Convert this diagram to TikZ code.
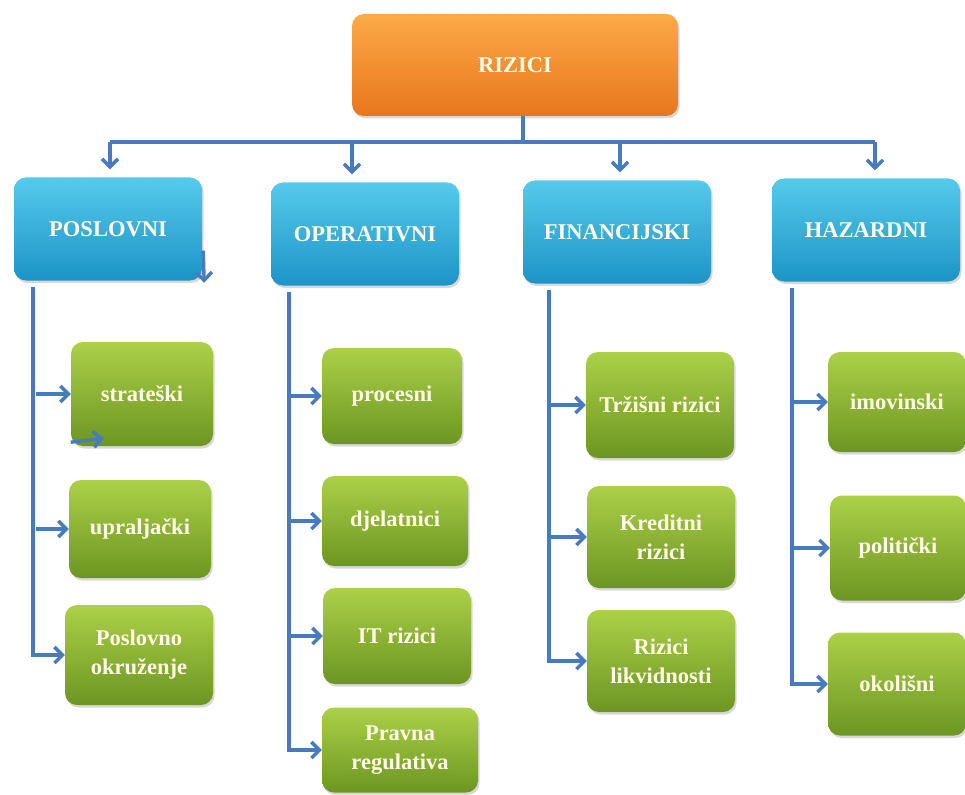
\documentclass[tikz,border=0pt]{standalone}
\usepackage{fontspec}
\setmainfont{Liberation Serif}
\usetikzlibrary{arrows.meta,shadows}

\definecolor{linkblue}{RGB}{72,122,192}
\definecolor{boxtext}{RGB}{255,252,232}
\definecolor{rootlight}{RGB}{252,170,72}
\definecolor{rootdark}{RGB}{232,118,28}
\definecolor{grouplight}{RGB}{86,202,236}
\definecolor{groupdark}{RGB}{28,148,198}
\definecolor{leaflight}{RGB}{172,208,72}
\definecolor{leafdark}{RGB}{108,150,34}

\begin{document}
\begin{tikzpicture}[%
    x=1pt, y=-1pt,
    box/.style={
        rounded corners=12,
        align=center,
        text=boxtext,
        font=\bfseries\fontsize{22.5}{29}\selectfont,
        drop shadow={opacity=0.3, shadow xshift=1.5pt, shadow yshift=-2.5pt},
        },
    rootnode/.style={
        box,
        top color=rootlight, bottom color=rootdark,
        minimum width=326, minimum height=102,
        },
    groupnode/.style={
        box,
        top color=grouplight, bottom color=groupdark,
        minimum width=188, minimum height=103,
        },
    leafnode/.style={
        box,
        top color=leaflight, bottom color=leafdark,
        minimum width=142, minimum height=100,
        },
    link/.style={linkblue, line width=3.4pt},
    arrow/.style={link, -{Straight Barb[length=8pt, width=16pt]}},
]

\fill[white] (0,0) rectangle (965,794);
\useasboundingbox (0,0) rectangle (965,794);

\node[rootnode] (rizici) at (515,65) {RIZICI};

\node[groupnode] (poslovni)    at (108,229) {POSLOVNI};
\node[groupnode] (operativni)  at (365,234) {OPERATIVNI};
\node[groupnode] (financijski) at (617,232) {FINANCIJSKI};
\node[groupnode] (hazardni)    at (866,230) {HAZARDNI};

\coordinate (barL) at (110,142);
\coordinate (barR) at (875,142);
\draw[link] ([xshift=8]rizici.south) -- ([xshift=8]rizici.south |- barL);
\draw[link] (barL) -- (barR);
\foreach \g/\dx in {poslovni/2, operativni/-13, financijski/3, hazardni/9}
    \draw[arrow] ([xshift=\dx]\g.north |- barL) -- ([xshift=\dx,yshift=8]\g.north);

\begin{scope}
    \node[leafnode, minimum height=104] (strat)   at (142,394) {strateški};
    \node[leafnode, minimum height=98]  (uprav)   at (140,529) {upraljački};
    \node[leafnode, minimum width=148]  (poslokr) at (139,655) {Poslovno\\okruženje};

    \coordinate (pspine) at ([xshift=19,yshift=-6]poslovni.south west);
    \draw[arrow] (pspine) |- (poslokr.west);
    \foreach \l in {strat,uprav}
        \draw[arrow] ([xshift=3]pspine |- \l.west) -- (\l.west);

    \draw[arrow] ([xshift=1,yshift=30]poslovni.south east) -- ([xshift=2,yshift=-2]poslovni.south east);
    \draw[arrow] ([yshift=4]strat.south west) -- ([xshift=33,yshift=8]strat.south west);
\end{scope}

\begin{scope}
    \node[leafnode, minimum width=140, minimum height=96] (procesni) at (392,396) {procesni};
    \node[leafnode, minimum width=146, minimum height=90] (djelat)   at (395,521) {djelatnici};
    \node[leafnode, minimum width=148, minimum height=96] (itriz)    at (397,636) {IT rizici};
    \node[leafnode, minimum width=156, minimum height=85] (pravna)   at (400,750) {Pravna\\regulativa};

    \coordinate (ospine) at ([xshift=18,yshift=-6]operativni.south west);
    \draw[arrow] (ospine) |- (pravna.west);
    \foreach \l in {procesni,djelat,itriz}
        \draw[arrow] (ospine |- \l.west) -- (\l.west);
\end{scope}

\begin{scope}
    \node[leafnode, minimum width=148, minimum height=106] (trzisni) at (660,405) {Tržišni rizici};
    \node[leafnode, minimum width=148, minimum height=102] (kredit)  at (661,537) {Kreditni\\rizici};
    \node[leafnode, minimum width=148, minimum height=102] (likvid)  at (661,661) {Rizici\\likvidnosti};

    \coordinate (fspine) at ([xshift=26,yshift=-6]financijski.south west);
    \draw[arrow] (fspine) |- (likvid.west);
    \foreach \l in {trzisni,kredit}
        \draw[arrow] (fspine |- \l.west) -- (\l.west);
\end{scope}

\begin{scope}
    \node[leafnode, minimum width=138]                    (imovin)  at (897,402) {imovinski};
    \node[leafnode, minimum width=136, minimum height=105] (politic) at (898,548) {politički};
    \node[leafnode, minimum width=138, minimum height=103] (okolis)  at (897,684) {okolišni};

    \coordinate (hspine) at ([xshift=20,yshift=-6]hazardni.south west);
    \draw[arrow] (hspine) |- (okolis.west);
    \foreach \l in {imovin,politic}
        \draw[arrow] (hspine |- \l.west) -- (\l.west);
\end{scope}

\end{tikzpicture}
\end{document}
